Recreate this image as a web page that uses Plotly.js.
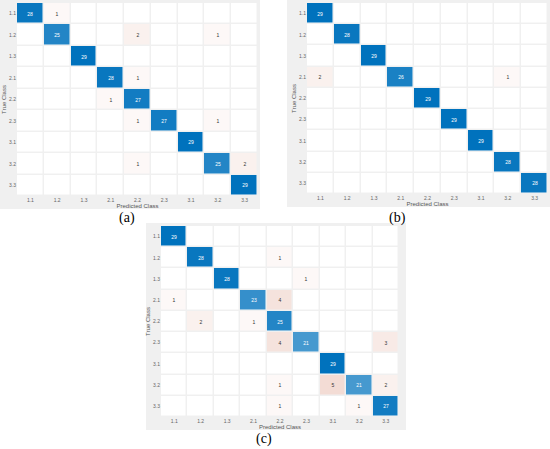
<!DOCTYPE html>
<html>
<head>
<meta charset="utf-8">
<script src="https://cdn.plot.ly/plotly-3.0.1.min.js"></script>
<style>html,body{margin:0;padding:0;background:#fff;}#chart{width:550px;height:449px;}</style>
</head>
<body>
<div id="chart"></div>
<script>
const classes = ['1.1','1.2','1.3','2.1','2.2','2.3','3.1','3.2','3.3'];

const matrixA = [
  [28,1,0,0,0,0,0,0,0],
  [0,25,0,0,2,0,0,1,0],
  [0,0,29,0,0,0,0,0,0],
  [0,0,0,28,1,0,0,0,0],
  [0,0,0,1,27,0,0,0,0],
  [0,0,0,0,1,27,0,1,0],
  [0,0,0,0,0,0,29,0,0],
  [0,0,0,0,1,0,0,25,2],
  [0,0,0,0,0,0,0,0,29]
];
const matrixB = [
  [29,0,0,0,0,0,0,0,0],
  [0,28,0,0,0,0,0,0,0],
  [0,0,29,0,0,0,0,0,0],
  [2,0,0,26,0,0,0,1,0],
  [0,0,0,0,29,0,0,0,0],
  [0,0,0,0,0,29,0,0,0],
  [0,0,0,0,0,0,29,0,0],
  [0,0,0,0,0,0,0,28,0],
  [0,0,0,0,0,0,0,0,28]
];
const matrixC = [
  [29,0,0,0,0,0,0,0,0],
  [0,28,0,0,1,0,0,0,0],
  [0,0,28,0,0,1,0,0,0],
  [1,0,0,23,4,0,0,0,0],
  [0,2,0,1,25,0,0,0,0],
  [0,0,0,0,4,21,0,0,3],
  [0,0,0,0,0,0,29,0,0],
  [0,0,0,0,1,0,5,21,2],
  [0,0,0,0,1,0,0,1,27]
];
const panelLabels = ['(a)','(b)','(c)'];

const W = 550, H = 449;
const px = (a,b) => [a/W, b/W];
const py = (top,bottom) => [1-bottom/H, 1-top/H];

const panels = [
  {m: matrixA, xd: px(17,258), yd: py(3,196), bg:[0,0,260,209], lab:[127,218]},
  {m: matrixB, xd: px(307,548), yd: py(3,194), bg:[287,0,550,207], lab:[397,218]},
  {m: matrixC, xd: px(161,399), yd: py(226,417), bg:[146,223,406,430], lab:[264,439]}
];

const cscale = [[0,'rgb(185,50,10)'],[0.5,'rgb(255,255,255)'],[1,'rgb(0,114,189)']];
const traces = [];
const layout = {
  width: W, height: H,
  margin: {l:0, r:0, t:0, b:0},
  paper_bgcolor: '#ffffff',
  plot_bgcolor: 'rgb(205,205,205)',
  font: {family: 'Liberation Sans, Arial, sans-serif', size: 5, color: '#555'},
  showlegend: false,
  shapes: [],
  annotations: []
};

panels.forEach((p, i) => {
  const n = i === 0 ? '' : String(i+1);
  const maxV = Math.max(...p.m.flat());
  const zOff = p.m.map((row, r) => row.map((v, c) => r === c ? 0 : -v));
  const tOff = p.m.map((row, r) => row.map((v, c) => (r === c || v === 0) ? '' : String(v)));
  const zDiag = p.m.map((row, r) => row.map((v, c) => r === c ? v : null));
  const tDiag = p.m.map((row, r) => row.map((v, c) => (r === c && v !== 0) ? String(v) : ''));
  const common = {
    type: 'heatmap', x: classes, y: classes,
    texttemplate: '%{text}',
    zmin: -maxV, zmax: maxV, colorscale: cscale,
    showscale: false, xgap: 1.5, ygap: 1.5, hoverinfo: 'skip',
    xaxis: 'x'+n, yaxis: 'y'+n
  };
  traces.push(Object.assign({}, common, {
    z: zOff, text: tOff,
    textfont: {size: 5, family: 'Liberation Sans, Arial, sans-serif', color: '#333'}
  }));
  traces.push(Object.assign({}, common, {
    z: zDiag, text: tDiag,
    textfont: {size: 5, family: 'Liberation Sans, Arial, sans-serif', color: '#ffffff'}
  }));
  layout['xaxis'+n] = {
    domain: p.xd, anchor: 'y'+n, type: 'category',
    showgrid: false, zeroline: false, ticks: '', showline: false,
    tickfont: {size: 5, color: '#666'},
    title: {text: 'Predicted Class', font: {size: 6, color: '#555'}, standoff: 1}
  };
  layout['yaxis'+n] = {
    domain: p.yd, anchor: 'x'+n, type: 'category', autorange: 'reversed',
    showgrid: false, zeroline: false, ticks: '', showline: false,
    tickfont: {size: 5, color: '#666'},
    title: {text: 'True Class', font: {size: 6, color: '#555'}, standoff: 1}
  };
  layout.shapes.push({
    type: 'rect', xref: 'paper', yref: 'paper', layer: 'below',
    x0: p.bg[0]/W, x1: p.bg[2]/W, y0: 1-p.bg[3]/H, y1: 1-p.bg[1]/H,
    fillcolor: 'rgb(240,240,240)', line: {width: 0}
  });
  layout.annotations.push({
    xref: 'paper', yref: 'paper', x: p.lab[0]/W, y: 1-p.lab[1]/H,
    text: panelLabels[i], showarrow: false, xanchor: 'center', yanchor: 'middle',
    font: {family: 'Liberation Serif, DejaVu Serif, serif', size: 14, color: '#000'}
  });
});

Plotly.newPlot('chart', traces, layout, {staticPlot: true, displayModeBar: false});
</script>
</body>
</html>
